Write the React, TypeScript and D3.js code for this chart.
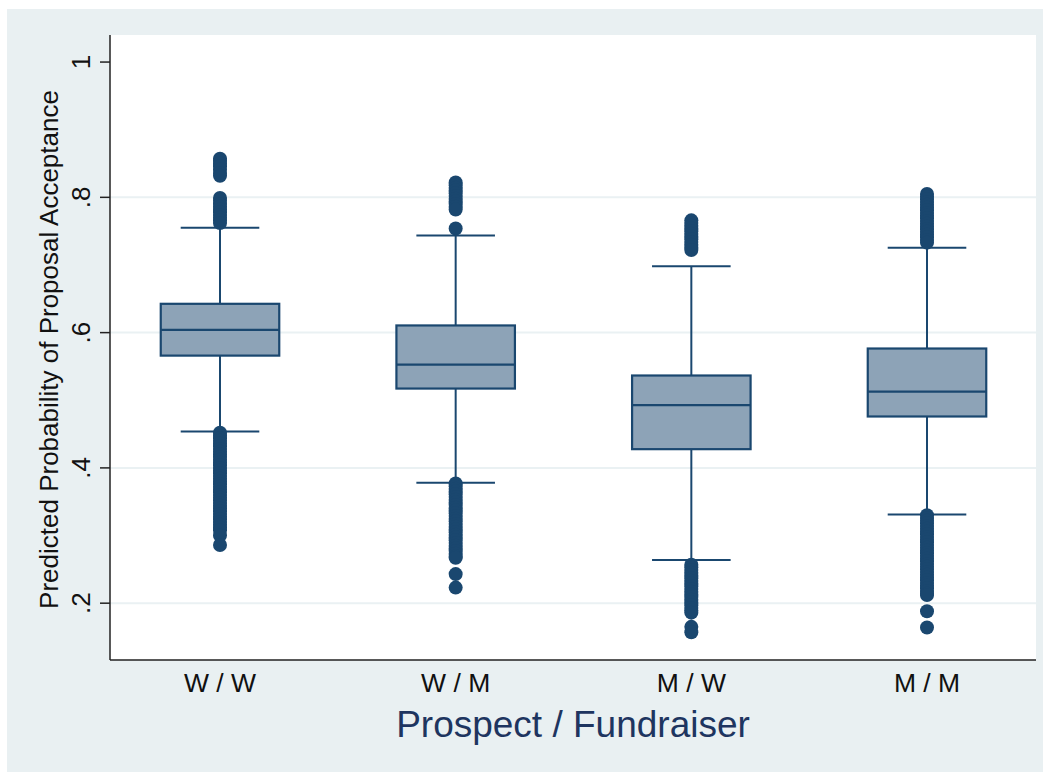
import React from "react";
import * as d3 from "d3";

const categories = ["W / W", "W / M", "M / W", "M / M"];
const q1 = [0.566, 0.5173, 0.4277, 0.476];
const medians = [0.6041, 0.5528, 0.4928, 0.5129];
const q3 = [0.6426, 0.6106, 0.5366, 0.5765];
const whiskerLow = [0.4538, 0.378, 0.264, 0.331];
const whiskerHigh = [0.755, 0.7436, 0.698, 0.7254];

const outliersWW = [
  0.857, 0.854, 0.850, 0.846, 0.841, 0.836, 0.832,
  0.799, 0.795, 0.790, 0.786, 0.782, 0.778, 0.774, 0.770, 0.766, 0.762,
  0.452, 0.448, 0.444, 0.440, 0.436, 0.432, 0.428, 0.424, 0.420, 0.416, 0.412,
  0.408, 0.404, 0.400, 0.396, 0.392, 0.388, 0.384, 0.380, 0.376, 0.372, 0.368,
  0.364, 0.360, 0.356, 0.352, 0.348, 0.344, 0.340, 0.336, 0.332, 0.328, 0.324,
  0.320, 0.316, 0.312, 0.308, 0.300, 0.286,
];
const outliersWM = [
  0.822, 0.818, 0.814, 0.810, 0.806, 0.802, 0.798, 0.794, 0.790, 0.786, 0.782,
  0.754,
  0.377, 0.373, 0.369, 0.365, 0.361, 0.357, 0.353, 0.349, 0.345, 0.341, 0.337,
  0.333, 0.329, 0.325, 0.321, 0.317, 0.313, 0.309, 0.305, 0.301, 0.297, 0.293,
  0.289, 0.285, 0.281, 0.277, 0.273, 0.269, 0.267,
  0.243, 0.223,
];
const outliersMW = [
  0.766, 0.762, 0.758, 0.754, 0.750, 0.746, 0.742, 0.738, 0.734, 0.730, 0.726, 0.722,
  0.257, 0.253, 0.249, 0.245, 0.241, 0.237, 0.233, 0.229, 0.225, 0.221, 0.217,
  0.213, 0.209, 0.205, 0.201, 0.197, 0.193, 0.189, 0.186,
  0.165, 0.157,
];
const outliersMM = [
  0.805, 0.801, 0.797, 0.793, 0.789, 0.785, 0.781, 0.777, 0.773, 0.769, 0.765,
  0.761, 0.757, 0.753, 0.749, 0.745, 0.741, 0.737, 0.733,
  0.330, 0.326, 0.322, 0.318, 0.314, 0.310, 0.306, 0.302, 0.298, 0.294, 0.290,
  0.286, 0.282, 0.278, 0.274, 0.270, 0.266, 0.262, 0.258, 0.254, 0.250, 0.246,
  0.242, 0.238, 0.234, 0.230, 0.226, 0.222, 0.218, 0.214, 0.212,
  0.188, 0.164,
];
const outliers = [outliersWW, outliersWM, outliersMW, outliersMM];

const yTicks = [0.2, 0.4, 0.6, 0.8, 1];
const yTickLabels = [".2", ".4", ".6", ".8", "1"];
const yTitle = "Predicted Probability of Proposal Acceptance";
const xTitle = "Prospect / Fundraiser";

const W = 1047;
const H = 772;
const plot = { left: 110, right: 1036, top: 35, bottom: 660 };
const NAVY = "#1A476F";
const FILL = "#8DA3B7";
const BG = "#E9F0F2";
const GRID = "#EAF1F3";
const FONT = "'Liberation Sans', Arial, Helvetica, sans-serif";

export default function App() {
  const y = d3.scaleLinear().domain([0.116, 1.04]).range([plot.bottom, plot.top]);
  const x = d3
    .scalePoint<string>()
    .domain(categories)
    .range([plot.left + 110, plot.right - 109]);
  const boxW = 118.5;
  const capW = 78.6;
  const r = 7;

  return (
    <svg
      width={W}
      height={H}
      style={{ position: "absolute", left: 0, top: 0, display: "block" }}
      fontFamily={FONT}
    >
      <rect x={0} y={0} width={W} height={H} fill="#ffffff" />
      <rect x={7} y={9} width={1036} height={763} fill={BG} />
      <rect
        x={plot.left}
        y={plot.top}
        width={plot.right - plot.left}
        height={plot.bottom - plot.top}
        fill="#ffffff"
      />
      {yTicks
        .filter((t) => t < 1)
        .map((t) => (
          <line
            key={"g" + t}
            x1={plot.left}
            x2={plot.right}
            y1={y(t)}
            y2={y(t)}
            stroke={GRID}
            strokeWidth={2}
          />
        ))}
      {categories.map((c, i) => {
        const cx = x(c)!;
        return (
          <g key={c}>
            <line x1={cx} x2={cx} y1={y(whiskerHigh[i])} y2={y(q3[i])} stroke={NAVY} strokeWidth={2} />
            <line x1={cx} x2={cx} y1={y(q1[i])} y2={y(whiskerLow[i])} stroke={NAVY} strokeWidth={2} />
            <line
              x1={cx - capW / 2}
              x2={cx + capW / 2}
              y1={y(whiskerHigh[i])}
              y2={y(whiskerHigh[i])}
              stroke={NAVY}
              strokeWidth={2}
            />
            <line
              x1={cx - capW / 2}
              x2={cx + capW / 2}
              y1={y(whiskerLow[i])}
              y2={y(whiskerLow[i])}
              stroke={NAVY}
              strokeWidth={2}
            />
            <rect
              x={cx - boxW / 2}
              y={y(q3[i])}
              width={boxW}
              height={y(q1[i]) - y(q3[i])}
              fill={FILL}
              stroke={NAVY}
              strokeWidth={2.2}
            />
            <line
              x1={cx - boxW / 2}
              x2={cx + boxW / 2}
              y1={y(medians[i])}
              y2={y(medians[i])}
              stroke={NAVY}
              strokeWidth={2.2}
            />
            {outliers[i].map((v, j) => (
              <circle key={j} cx={cx} cy={y(v)} r={r} fill={NAVY} />
            ))}
          </g>
        );
      })}
      <line x1={plot.left} x2={plot.left} y1={plot.top} y2={plot.bottom} stroke="#222" strokeWidth={1.5} />
      <line x1={plot.left} x2={plot.right} y1={plot.bottom} y2={plot.bottom} stroke="#222" strokeWidth={1.5} />
      {yTicks.map((t, i) => (
        <g key={"t" + t}>
          <line x1={plot.left - 10} x2={plot.left} y1={y(t)} y2={y(t)} stroke="#222" strokeWidth={1.5} />
          <text
            transform={`translate(90, ${y(t)}) rotate(-90)`}
            textAnchor="middle"
            fontSize={26}
            fill="#111"
          >
            {yTickLabels[i]}
          </text>
        </g>
      ))}
      {categories.map((c) => (
        <text key={"x" + c} x={x(c)!} y={692} textAnchor="middle" fontSize={26.5} fill="#111">
          {c}
        </text>
      ))}
      <text
        transform={`translate(58, ${(plot.top + plot.bottom) / 2 + 2}) rotate(-90)`}
        textAnchor="middle"
        fontSize={26}
        fill="#111"
      >
        {yTitle}
      </text>
      <text
        x={(plot.left + plot.right) / 2}
        y={737}
        textAnchor="middle"
        fontSize={37}
        fill="#1E3560"
      >
        {xTitle}
      </text>
    </svg>
  );
}
